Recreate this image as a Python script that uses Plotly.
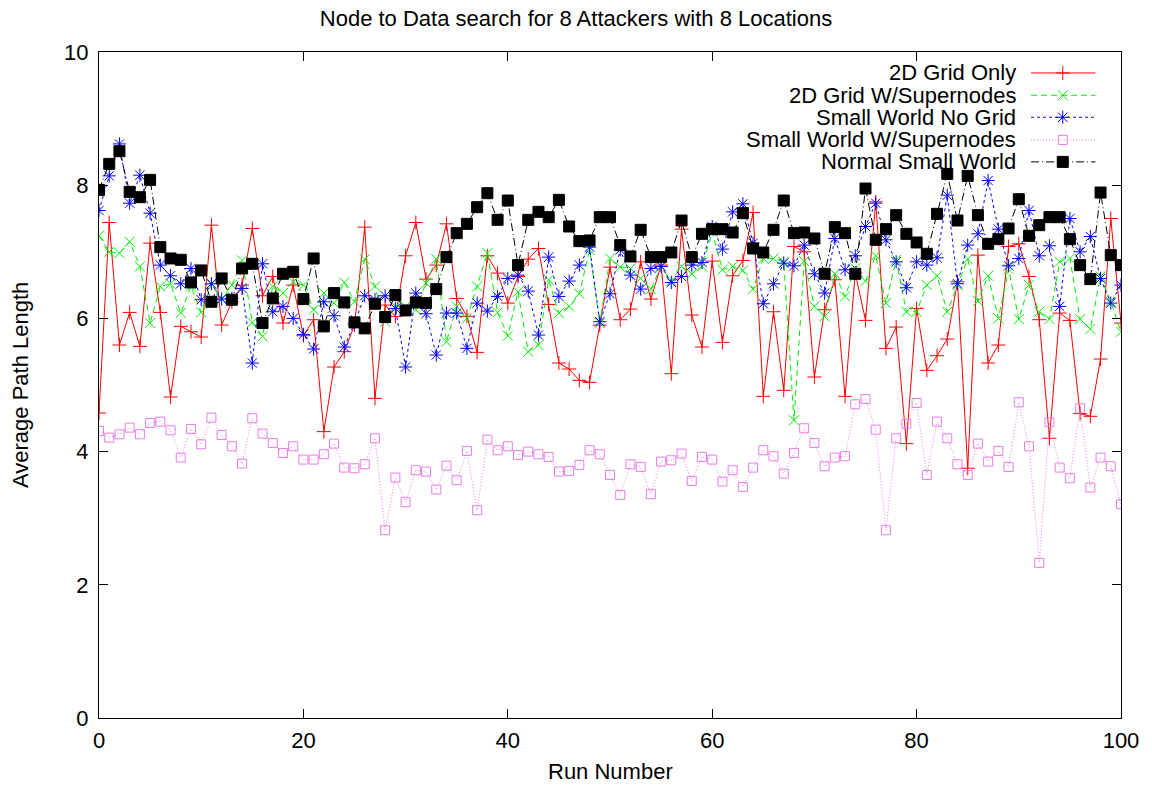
import plotly.graph_objects as go

runs = list(range(101))

grid_only = [4.58, 7.44, 5.6, 6.09, 5.58, 7.13, 6.09, 4.82, 5.88, 5.8, 5.72, 7.4, 5.9, 6.25, 6.5, 7.35, 6.34, 6.63, 5.93, 6.5,
             5.74, 5.98, 4.3, 5.27, 5.5, 5.9, 7.37, 4.8, 6.2, 6.03, 6.94, 7.44, 6.59, 6.8, 7.42, 6.3, 6.03, 5.49, 6.94, 6.68,
             6.23, 6.63, 6.89, 7.05, 6.21, 5.33, 5.24, 5.07, 5.04, 5.9, 6.77, 5.98, 6.14, 6.85, 6.29, 6.8, 5.17, 7.34, 6.05, 5.57,
             6.86, 5.64, 6.64, 6.87, 7.59, 4.83, 6.1, 4.92, 7.08, 7.0, 5.12, 6.13, 6.58, 4.83, 6.68, 5.97, 7.75, 5.55, 5.87, 4.12,
             6.15, 5.22, 5.44, 5.69, 6.55, 3.75, 6.95, 5.33, 5.6, 7.08, 7.12, 6.63, 5.98, 4.2, 6.08, 5.97, 4.57, 4.53, 5.39, 7.5,
             5.93]

grid_super = [7.24, 7.0, 6.98, 7.15, 6.78, 5.93, 6.48, 6.52, 6.08, 6.48, 6.09, 6.52, 6.3, 6.5, 6.87, 5.94, 5.73, 6.48, 6.38, 6.55,
              6.5, 6.13, 6.38, 6.23, 6.54, 6.25, 6.89, 6.48, 5.95, 6.18, 6.18, 6.13, 6.53, 6.89, 5.65, 6.18, 6.0, 6.48, 6.98, 6.09,
              5.74, 6.4, 5.5, 5.6, 6.58, 6.08, 6.18, 6.37, 7.03, 5.93, 6.9, 6.77, 6.75, 6.6, 6.44, 6.78, 6.56, 6.78, 6.67, 6.78,
              7.3, 6.73, 6.78, 6.72, 6.44, 6.9, 6.9, 6.85, 4.47, 6.86, 6.18, 6.03, 6.67, 6.33, 6.75, 6.56, 6.94, 6.23, 6.88, 6.1,
              6.1, 6.5, 6.64, 6.1, 6.5, 6.89, 6.26, 6.64, 6.0, 6.74, 5.99, 6.5, 6.1, 5.99, 6.85, 6.9, 5.99, 5.84, 6.63, 6.25,
              5.8]

sw_nogrid = [7.62, 8.14, 8.62, 7.73, 8.15, 7.58, 6.8, 6.64, 6.52, 6.75, 6.28, 6.52, 6.29, 6.3, 6.45, 5.33, 6.82, 6.1, 6.18, 6.0,
             5.76, 5.54, 6.25, 6.04, 5.57, 5.93, 6.34, 6.28, 6.34, 6.15, 5.27, 6.38, 6.07, 5.45, 6.08, 6.08, 5.55, 6.23, 6.11, 6.33,
             6.6, 6.65, 6.41, 5.75, 6.92, 6.33, 6.56, 6.8, 7.07, 5.95, 6.37, 7.03, 6.65, 6.44, 6.75, 6.78, 6.54, 6.63, 6.8, 6.84,
             7.38, 7.04, 7.6, 7.72, 7.13, 6.22, 6.52, 6.83, 6.79, 7.1, 6.67, 6.38, 7.2, 6.73, 6.94, 7.38, 7.73, 7.18, 6.85, 6.46,
             6.85, 6.8, 6.91, 7.85, 6.52, 7.1, 7.27, 8.07, 7.34, 6.79, 6.9, 7.62, 6.94, 7.09, 6.18, 7.5, 7.0, 7.23, 6.6, 6.23,
             6.5]

sw_super = [4.31, 4.21, 4.26, 4.36, 4.26, 4.43, 4.45, 4.32, 3.91, 4.34, 4.11, 4.51, 4.25, 4.08, 3.82, 4.5, 4.27, 4.13, 3.98, 4.08,
            3.88, 3.88, 3.96, 4.12, 3.76, 3.75, 3.81, 4.2, 2.82, 3.61, 3.24, 3.72, 3.7, 3.43, 3.79, 3.57, 4.01, 3.12, 4.18, 4.02,
            4.08, 3.95, 4.0, 3.96, 3.92, 3.7, 3.71, 3.8, 4.02, 3.96, 3.65, 3.35, 3.81, 3.77, 3.36, 3.85, 3.87, 3.97, 3.56, 3.92,
            3.88, 3.55, 3.72, 3.47, 3.76, 4.02, 3.93, 3.67, 3.98, 4.35, 4.13, 3.78, 3.91, 3.93, 4.71, 4.79, 4.33, 2.82, 4.2, 4.42,
            4.73, 3.65, 4.45, 4.2, 3.81, 3.65, 4.12, 3.85, 4.01, 3.77, 4.74, 4.08, 2.33, 4.44, 3.76, 3.6, 4.65, 3.46, 3.91, 3.78,
            3.21]

normal_sw = [7.93, 8.32, 8.51, 7.9, 7.82, 8.08, 7.07, 6.9, 6.88, 6.54, 6.72, 6.25, 6.6, 6.28, 6.75, 6.82, 5.93, 6.3, 6.67, 6.7,
             6.29, 6.9, 5.88, 6.38, 6.24, 5.94, 5.85, 6.22, 6.02, 6.35, 6.12, 6.24, 6.23, 6.44, 6.92, 7.28, 7.42, 7.67, 7.88, 7.48,
             7.77, 6.8, 7.48, 7.6, 7.52, 7.78, 7.38, 7.16, 7.17, 7.52, 7.52, 7.1, 6.93, 7.33, 6.92, 6.92, 6.99, 7.47, 6.92, 7.27,
             7.34, 7.34, 7.29, 7.58, 7.05, 6.99, 7.33, 7.77, 7.28, 7.29, 7.2, 6.67, 7.37, 7.28, 6.67, 7.95, 7.18, 7.34, 7.55, 7.27,
             7.14, 6.97, 7.57, 8.17, 7.47, 8.14, 7.55, 7.12, 7.19, 7.35, 7.79, 7.24, 7.4, 7.52, 7.52, 7.19, 6.8, 6.59, 7.89, 6.95,
             6.8]

series_names = ["2D Grid Only", "2D Grid W/Supernodes", "Small World No Grid",
                "Small World W/Supernodes", "Normal Small World"]
series_values = [grid_only, grid_super, sw_nogrid, sw_super, normal_sw]
colors = ["#ff0000", "#00ee00", "#0000ff", "#e87de8", "#000000"]
dashes = ["solid", "6px,4px", "3px,3px", "1px,2px", "8px,3px,1px,3px"]
symbols = ["cross-thin-open", "x-thin-open", "asterisk-open", "square-open", "square"]
msizes = [10, 10, 11, 9, 11]

x_ticks = [0, 20, 40, 60, 80, 100]
y_ticks = [0, 2, 4, 6, 8, 10]

FONT = "Liberation Sans, Arial, sans-serif"
FS = 22

fig = go.Figure()
for name, vals, c, d, s, ms in zip(series_names, series_values, colors, dashes, symbols, msizes):
    mk = dict(symbol=s, size=ms, color=c, line=dict(color=c, width=1))
    fig.add_trace(go.Scatter(x=runs, y=vals, mode="lines+markers", name=name,
                             line=dict(color=c, width=1, dash=d), marker=mk, showlegend=False))

# legend (gnuplot style: text right-aligned, sample on the right)
leg_y = [0.9685, 0.935, 0.902, 0.868, 0.835]
for name, c, d, s, ms, ly in zip(series_names, colors, dashes, symbols, msizes, leg_y):
    fig.add_trace(go.Scatter(x=[0.912, 0.975], y=[ly, ly], mode="lines", xaxis="x2", yaxis="y2",
                             line=dict(color=c, width=1, dash=d), showlegend=False, hoverinfo="skip"))
    fig.add_trace(go.Scatter(x=[0.943], y=[ly], mode="markers", xaxis="x2", yaxis="y2",
                             marker=dict(symbol=s, size=ms, color=c, line=dict(color=c, width=1)),
                             showlegend=False, hoverinfo="skip"))
    fig.add_annotation(x=0.898, y=ly, xref="paper", yref="paper", text=name, showarrow=False,
                       xanchor="right", yanchor="middle", borderpad=0,
                       font=dict(family=FONT, size=FS, color="black"))

# axis titles
fig.add_annotation(x=0.5, y=-0.0805, xref="paper", yref="paper", text="Run Number", showarrow=False,
                   xanchor="center", yanchor="middle", borderpad=0,
                   font=dict(family=FONT, size=FS, color="black"))
fig.add_annotation(x=-0.0773, y=0.5, xref="paper", yref="paper", text="Average Path Length", showarrow=False,
                   textangle=-90, xanchor="center", yanchor="middle", borderpad=0,
                   font=dict(family=FONT, size=FS, color="black"))

axis_common = dict(showline=True, linecolor="black", linewidth=1, mirror="allticks", ticks="inside",
                   ticklen=9, tickcolor="black", showgrid=False, zeroline=False, automargin=False,
                   tickfont=dict(family=FONT, size=FS, color="black"))

fig.update_layout(
    width=1152, height=786,
    margin=dict(l=99, r=31, t=52, b=68),
    plot_bgcolor="white", paper_bgcolor="white",
    title=dict(text="Node to Data search for 8 Attackers with 8 Locations", x=0.5, xanchor="center",
               y=0.977, yanchor="middle", font=dict(family=FONT, size=FS, color="black")),
    xaxis=dict(range=[0, 100], tickvals=x_ticks, ticklabelstandoff=3, **axis_common),
    yaxis=dict(range=[0, 10], tickvals=y_ticks, ticklabelstandoff=5, **axis_common),
    xaxis2=dict(range=[0, 1], overlaying="x", visible=False, anchor="y2"),
    yaxis2=dict(range=[0, 1], overlaying="y", visible=False, anchor="x2"),
)

fig.write_html("out.html")
